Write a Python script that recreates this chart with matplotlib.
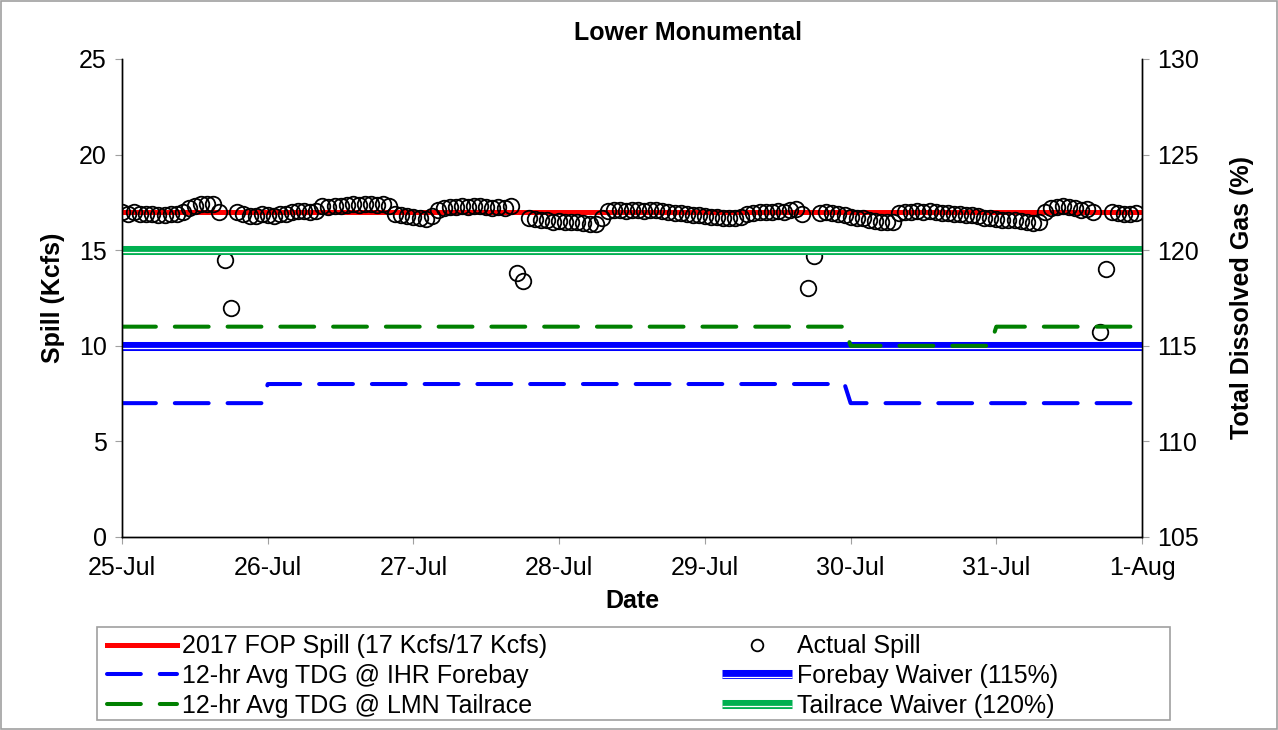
import pandas as pd
import matplotlib.pyplot as plt
import matplotlib.patheffects as pe
from matplotlib.patches import Rectangle
from matplotlib.ticker import FuncFormatter, MultipleLocator
import matplotlib.dates as mdates

plt.rcParams['font.family'] = ['Liberation Sans', 'DejaVu Sans']

start = '2017-07-25 00:00'
end = '2017-08-01 00:00'

# hourly actual spill (Kcfs), one list per day
spill_jul25 = [17.0, 16.9, 17.0, 16.9, 16.9, 16.9, 16.85, 16.85, 16.9, 16.9, 17.0, 17.2,
               17.3, 17.4, 17.4, 17.4, 17.0, 14.5, 12.0, 17.0, 16.9, 16.8, 16.8, 16.9]
spill_jul26 = [16.85, 16.8, 16.9, 16.9, 17.0, 17.05, 17.05, 17.0, 17.05, 17.3, 17.25, 17.3,
               17.3, 17.35, 17.4, 17.35, 17.4, 17.4, 17.35, 17.4, 17.3, 16.9, 16.85, 16.8]
spill_jul27 = [16.75, 16.7, 16.65, 16.8, 17.1, 17.2, 17.25, 17.25, 17.3, 17.25, 17.3, 17.3,
               17.25, 17.2, 17.25, 17.2, 17.3, 13.8, 13.4, 16.7, 16.65, 16.6, 16.6, 16.5]
spill_jul28 = [16.55, 16.5, 16.5, 16.45, 16.4, 16.35, 16.35, 16.7, 17.05, 17.1, 17.1, 17.05,
               17.1, 17.1, 17.05, 17.1, 17.1, 17.05, 17.0, 16.95, 16.95, 16.9, 16.85, 16.85]
spill_jul29 = [16.8, 16.75, 16.75, 16.7, 16.7, 16.7, 16.75, 16.9, 16.95, 17.0, 17.0, 17.0,
               17.05, 17.0, 17.1, 17.15, 16.9, 13.0, 14.7, 16.95, 17.0, 16.95, 16.9, 16.85]
spill_jul30 = [16.75, 16.7, 16.7, 16.6, 16.55, 16.5, 16.45, 16.5, 16.95, 17.0, 17.0, 17.05,
               17.0, 17.05, 17.0, 16.95, 16.95, 16.9, 16.9, 16.85, 16.85, 16.8, 16.7, 16.7]
spill_jul31 = [16.65, 16.6, 16.6, 16.6, 16.55, 16.5, 16.4, 16.45, 17.0, 17.2, 17.25, 17.3,
               17.25, 17.2, 17.1, 17.15, 17.0, 10.7, 14.0, 17.0, 16.95, 16.9, 16.9, 16.95]
actual_spill = (spill_jul25 + spill_jul26 + spill_jul27 + spill_jul28 +
                spill_jul29 + spill_jul30 + spill_jul31)
spill_hours = pd.date_range(start, periods=len(actual_spill), freq='h')

# FOP spill target
fop_times = [start, end]
fop_spill = [17, 17]

# 12-hr average TDG (%)
ihr_times = ['2017-07-25 00:00', '2017-07-25 23:00', '2017-07-26 00:00',
             '2017-07-29 23:00', '2017-07-30 00:00', '2017-07-31 23:00']
ihr_tdg = [112, 112, 113, 113, 112, 112]
lmn_times = ['2017-07-25 00:00', '2017-07-29 23:00', '2017-07-30 00:00',
             '2017-07-30 23:00', '2017-07-31 00:00', '2017-07-31 23:00']
lmn_tdg = [116, 116, 115, 115, 116, 116]

# waivers (%)
waiver_times = [start, end]
forebay_waiver = [115, 115]
tailrace_waiver = [120, 120]

red = '#ff0000'
blue = '#0000ff'
dkgreen = '#008000'
green = '#00b050'
fs = 18

fig = plt.figure(figsize=(12.78, 7.30), dpi=100)
ax = fig.add_axes([0.0955, 0.2644, 0.7981, 0.6548])
ax2 = ax.twinx()

fop_line, = ax.plot(pd.to_datetime(fop_times), fop_spill, color=red, lw=3.6,
                    label='2017 FOP Spill (17 Kcfs/17 Kcfs)', zorder=2)
spill_pts, = ax.plot(spill_hours, actual_spill, ls='none', marker='o', ms=11.2,
                     mfc='none', mec='black', mew=1.3, label='Actual Spill', zorder=3)

gap = [pe.Normal(), pe.Stroke(linewidth=0.9, foreground='white', offset=(0, -1.6))]
fb_line, = ax2.plot(pd.to_datetime(waiver_times), forebay_waiver, color=blue, lw=6.5,
                    solid_capstyle='butt', path_effects=gap, zorder=1,
                    label='Forebay Waiver (115%)')
tr_line, = ax2.plot(pd.to_datetime(waiver_times), tailrace_waiver, color=green, lw=6.5,
                    solid_capstyle='butt', path_effects=gap, zorder=1,
                    label='Tailrace Waiver (120%)')

ihr_line, = ax2.plot(pd.to_datetime(ihr_times), ihr_tdg, color=blue, lw=2.9,
                     dashes=(8.4, 4.7), dash_capstyle='round', zorder=2,
                     label='12-hr Avg TDG @ IHR Forebay')
lmn_line, = ax2.plot(pd.to_datetime(lmn_times), lmn_tdg, color=dkgreen, lw=2.9,
                     dashes=(8.4, 4.7), dash_capstyle='round', zorder=2,
                     label='12-hr Avg TDG @ LMN Tailrace')

ax.set_xlim(pd.Timestamp(start), pd.Timestamp(end))
ax.set_ylim(0, 25)
ax2.set_ylim(105, 130)
ax.yaxis.set_major_locator(MultipleLocator(5))
ax2.yaxis.set_major_locator(MultipleLocator(5))
ax.xaxis.set_major_locator(mdates.DayLocator())
ax.xaxis.set_major_formatter(FuncFormatter(
    lambda v, p: f"{mdates.num2date(v).day}-{mdates.num2date(v).strftime('%b')}"))

for a in (ax, ax2):
    a.spines['top'].set_visible(False)
    for s in ('left', 'right', 'bottom'):
        a.spines[s].set_color('black')
        a.spines[s].set_linewidth(1.0)
    a.tick_params(axis='both', which='major', direction='out', length=5,
                  color='#a0a0a0', labelsize=fs, pad=6)
ax.tick_params(axis='x', pad=9)

ax.set_xlabel('Date', fontsize=fs, fontweight='bold', labelpad=6)
ax.set_ylabel('Spill (Kcfs)', fontsize=fs, fontweight='bold', labelpad=10)
ax2.set_ylabel('Total Dissolved Gas (%)', fontsize=fs, fontweight='bold', labelpad=22)

fig.text(0.538, 0.955, 'Lower Monumental', ha='center', va='center',
         fontsize=fs, fontweight='bold')

handles = [fop_line, ihr_line, lmn_line, spill_pts, fb_line, tr_line]
fig.legend(handles=handles, labels=[h.get_label() for h in handles], ncol=2,
           loc='upper left', bbox_to_anchor=(0.0837, 0.131),
           bbox_transform=fig.transFigure, frameon=False, fontsize=fs,
           handlelength=2.8, handletextpad=0.2, columnspacing=7.0,
           labelspacing=0.23, borderpad=0, borderaxespad=0, markerscale=0.75)

fig.patches.append(Rectangle((97 / 1278, 10 / 730), 1073 / 1278, 93 / 730,
                             transform=fig.transFigure, fill=False,
                             edgecolor='#a0a0a0', lw=1.2))
fig.patches.append(Rectangle((0.001, 0.002), 0.998, 0.996, transform=fig.transFigure,
                             fill=False, edgecolor='#a0a0a0', lw=1.2))

fig.savefig('out.png', dpi=100)
